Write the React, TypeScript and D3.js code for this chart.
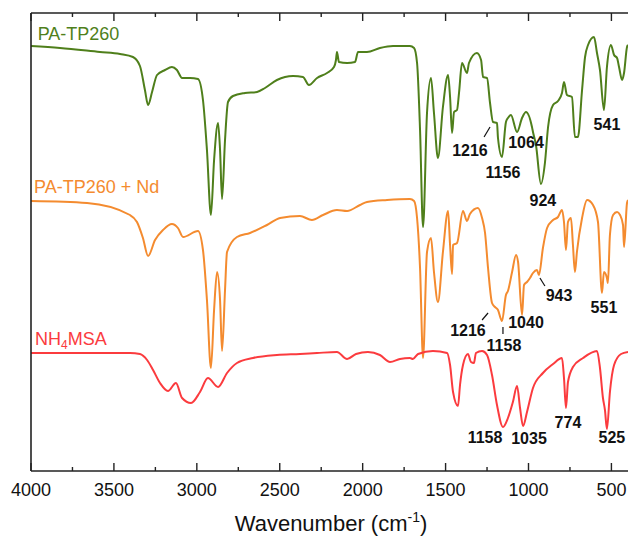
import React from "react";
import * as d3 from "d3";

// FTIR spectra, values are offset transmittance (a.u.), wavenumber in cm-1
const paTp260: [number, number][] = [
  [4000, 425], [3825, 423], [3584, 419], [3463, 417], [3385, 414], [3343, 405], [3313, 381],
  [3294, 366], [3270, 379], [3240, 396], [3192, 401], [3150, 404], [3120, 401], [3089, 393],
  [3041, 393], [2993, 392], [2963, 371], [2939, 321], [2915, 256], [2896, 311], [2872, 348],
  [2860, 321], [2848, 272], [2830, 331], [2812, 369], [2782, 375], [2710, 378], [2637, 379],
  [2589, 383], [2517, 391], [2420, 395], [2360, 394], [2324, 386], [2275, 393], [2215, 398],
  [2173, 404], [2161, 411], [2155, 419], [2143, 409], [2094, 408], [2046, 409], [2028, 419],
  [1974, 419], [1896, 423], [1817, 425], [1715, 425], [1690, 423], [1672, 408], [1654, 341],
  [1636, 244], [1612, 358], [1588, 393], [1570, 358], [1546, 313], [1516, 364], [1485, 396],
  [1473, 374], [1461, 338], [1449, 359], [1431, 361], [1419, 378], [1401, 408], [1371, 398],
  [1359, 408], [1311, 418], [1286, 411], [1274, 394], [1250, 393], [1232, 368], [1214, 349],
  [1190, 348], [1184, 333], [1160, 314], [1136, 349], [1124, 353], [1106, 356], [1069, 339],
  [1039, 353], [1015, 359], [979, 344], [973, 339], [955, 326], [925, 287], [901, 308],
  [882, 344], [852, 366], [822, 370], [798, 378], [786, 389], [768, 376], [738, 374],
  [720, 334], [702, 334], [677, 381], [659, 414], [641, 426], [605, 434], [587, 418],
  [569, 401], [545, 361], [527, 404], [503, 426], [484, 416], [466, 413], [454, 404],
  [436, 391], [424, 398], [406, 424], [400, 426],
];

const paTp260Nd: [number, number][] = [
  [4000, 270], [3662, 268], [3403, 256], [3361, 249], [3325, 233], [3294, 215], [3252, 231],
  [3204, 241], [3150, 247], [3114, 243], [3083, 234], [2993, 240], [2963, 221], [2939, 171],
  [2915, 103], [2896, 161], [2878, 199], [2860, 171], [2848, 120], [2830, 181], [2818, 219],
  [2758, 234], [2679, 238], [2577, 246], [2498, 253], [2378, 255], [2306, 251], [2239, 256],
  [2155, 261], [2094, 260], [2016, 266], [1974, 269], [1853, 271], [1715, 272], [1690, 270],
  [1672, 253], [1654, 203], [1636, 113], [1612, 219], [1588, 233], [1570, 199], [1546, 169],
  [1516, 219], [1485, 260], [1473, 226], [1461, 197], [1455, 226], [1431, 228], [1395, 260],
  [1371, 250], [1353, 257], [1305, 263], [1280, 253], [1262, 238], [1244, 203], [1220, 168],
  [1202, 164], [1184, 161], [1160, 150], [1136, 176], [1124, 180], [1099, 199], [1075, 216],
  [1063, 209], [1039, 156], [1027, 186], [1009, 189], [991, 193], [973, 198], [949, 201],
  [937, 196], [913, 223], [888, 243], [852, 251], [822, 254], [798, 261], [786, 249],
  [774, 221], [762, 249], [744, 253], [732, 226], [720, 199], [708, 219], [677, 253],
  [647, 271], [611, 266], [581, 249], [557, 178], [545, 199], [527, 193], [521, 188],
  [509, 236], [490, 256], [466, 259], [448, 256], [430, 246], [424, 224], [406, 268], [400, 271],
];

const nh4Msa: [number, number][] = [
  [4000, 118], [3403, 118], [3343, 117], [3300, 111], [3264, 101], [3222, 88], [3174, 80],
  [3126, 88], [3089, 73], [3035, 68], [2981, 79], [2933, 93], [2872, 84], [2818, 98],
  [2758, 108], [2661, 113], [2517, 116], [2378, 117], [2275, 118], [2155, 119], [2094, 112],
  [2040, 117], [1968, 119], [1896, 116], [1835, 109], [1775, 112], [1715, 113], [1697, 112],
  [1666, 117], [1576, 120], [1491, 118], [1473, 106], [1455, 79], [1425, 65], [1413, 86],
  [1395, 106], [1365, 117], [1347, 109], [1329, 108], [1317, 118], [1280, 120], [1250, 116],
  [1220, 96], [1190, 66], [1154, 44], [1124, 53], [1094, 69], [1069, 85], [1051, 63],
  [1033, 45], [1009, 59], [973, 83], [913, 98], [852, 107], [798, 113], [786, 93],
  [774, 63], [762, 89], [732, 104], [671, 113], [587, 120], [569, 103], [551, 73],
  [539, 61], [527, 42], [509, 79], [484, 106], [442, 117], [400, 119],
];

const seriesNames = ["PA-TP260", "PA-TP260 + Nd", "NH4MSA"];
const seriesColors = ["#4f7f1b", "#f48b2f", "#fb3b3e"];
// where each series name sits: [wavenumber, value]
const namePos: [number, number][] = [[3960, 431], [3982, 278], [3976, 126]];

// peak annotations: [label, wavenumber, value]
const peakLabels: [string, number, number][] = [
  ["1216", 1353, 315], ["1156", 1154, 293], ["1064", 1015, 323], ["924", 913, 265], ["541", 527, 341],
  ["1216", 1365, 135], ["1158", 1148, 120], ["1040", 1015, 143], ["943", 816, 170], ["551", 545, 158],
  ["1158", 1262, 28], ["1035", 997, 27], ["774", 762, 43], ["525", 497, 28],
];
// leader lines: [wn1, v1, wn2, v2]
const leaders: [number, number, number, number][] = [
  [1268, 334, 1232, 344],
  [1280, 151, 1244, 158],
  [1154, 144, 1154, 137],
  [931, 193, 901, 185],
];

const xTicks = [4000, 3500, 3000, 2500, 2000, 1500, 1000, 500];
const xMinor = [3750, 3250, 2750, 2250, 1750, 1250, 750];

const W = 628;
const H = 537;
const margin = { top: 13, left: 31, bottom: 66 };
const plotBottom = H - margin.bottom;
const font = "'Liberation Sans', Arial, sans-serif";

export default function App() {
  const x = d3.scaleLinear().domain([4000, 400]).range([margin.left, W]);
  const y = d3.scaleLinear().domain([0, 458]).range([plotBottom, margin.top]);
  const line = d3
    .line<[number, number]>()
    .x((d) => x(d[0]))
    .y((d) => y(d[1]))
    .curve(d3.curveMonotoneX);

  const spectra = [paTp260, paTp260Nd, nh4Msa];

  return (
    <svg width={W} height={H} style={{ position: "absolute", left: 0, top: 0 }} fontFamily={font}>
      <defs>
        <clipPath id="plot">
          <rect x={margin.left} y={margin.top} width={W - margin.left} height={plotBottom - margin.top} />
        </clipPath>
      </defs>
      <g clipPath="url(#plot)">
        {spectra.map((s, i) => (
          <path key={i} d={line(s) || ""} fill="none" stroke={seriesColors[i]} strokeWidth={2} strokeLinejoin="round" />
        ))}
      </g>

      {/* frame */}
      <line x1={margin.left} x2={margin.left} y1={margin.top} y2={plotBottom} stroke="#222" strokeWidth={1.6} />
      <line x1={margin.left} x2={W} y1={margin.top} y2={margin.top} stroke="#222" strokeWidth={1.6} />
      <line x1={margin.left} x2={W} y1={plotBottom} y2={plotBottom} stroke="#222" strokeWidth={1.6} />

      {xTicks.map((t) => (
        <g key={t}>
          <line x1={x(t)} x2={x(t)} y1={plotBottom} y2={plotBottom - 8} stroke="#222" strokeWidth={1.4} />
          <line x1={x(t)} x2={x(t)} y1={margin.top} y2={margin.top + 8} stroke="#222" strokeWidth={1.4} />
          <text x={x(t)} y={plotBottom + 25} textAnchor="middle" fontSize={18} fill="#111">
            {t}
          </text>
        </g>
      ))}
      {xMinor.map((t) => (
        <g key={t}>
          <line x1={x(t)} x2={x(t)} y1={plotBottom} y2={plotBottom - 4} stroke="#222" strokeWidth={1.4} />
          <line x1={x(t)} x2={x(t)} y1={margin.top} y2={margin.top + 4} stroke="#222" strokeWidth={1.4} />
        </g>
      ))}

      <text x={331} y={531} textAnchor="middle" fontSize={22} fill="#111">
        Wavenumber (cm<tspan dy={-9} fontSize={14}>-1</tspan>
        <tspan dy={9}>)</tspan>
      </text>

      {seriesNames.map((n, i) => (
        <text key={n} x={x(namePos[i][0])} y={y(namePos[i][1])} fontSize={18} fill={seriesColors[i]}>
          {n === "NH4MSA" ? (
            <>
              NH<tspan dy={4} fontSize={12}>4</tspan>
              <tspan dy={-4}>MSA</tspan>
            </>
          ) : (
            n
          )}
        </text>
      ))}

      {peakLabels.map(([t, wn, v], i) => (
        <text key={i} x={x(wn)} y={y(v)} textAnchor="middle" fontSize={16} fontWeight="bold" fill="#111">
          {t}
        </text>
      ))}
      {leaders.map(([a, b, c, d], i) => (
        <line key={i} x1={x(a)} y1={y(b)} x2={x(c)} y2={y(d)} stroke="#111" strokeWidth={1.2} />
      ))}
    </svg>
  );
}
